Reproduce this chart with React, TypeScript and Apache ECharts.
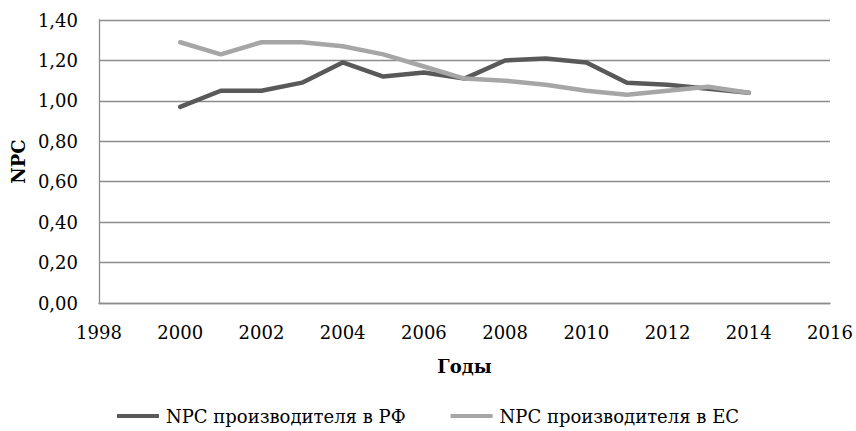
import React, { useEffect, useRef } from "react";
import * as echarts from "echarts";

const years = [2000, 2001, 2002, 2003, 2004, 2005, 2006, 2007, 2008, 2009, 2010, 2011, 2012, 2013, 2014];
const npcRF = [0.97, 1.05, 1.05, 1.09, 1.19, 1.12, 1.14, 1.11, 1.2, 1.21, 1.19, 1.09, 1.08, 1.06, 1.04];
const npcEU = [1.29, 1.23, 1.29, 1.29, 1.27, 1.23, 1.17, 1.11, 1.1, 1.08, 1.05, 1.03, 1.05, 1.07, 1.04];
const seriesNames = ["NPC производителя в РФ", "NPC производителя в ЕС"];
const xAxisName = "Годы";
const yAxisName = "NPC";

const FONT = "DejaVu Serif";
const FS = 18;

export default function App() {
  const ref = useRef<HTMLDivElement>(null);
  useEffect(() => {
    if (!ref.current) return;
    const chart = echarts.init(ref.current, undefined, { renderer: "svg" });
    const gridColor = "#8c8c8c";
    chart.setOption({
      animation: false,
      textStyle: { fontFamily: FONT, color: "#000" },
      grid: { left: 99, right: 26, top: 20, bottom: 128, containLabel: false },
      legend: {
        bottom: 1,
        left: "center",
        itemWidth: 42,
        itemHeight: 4,
        itemGap: 45,
        icon: "rect",
        textStyle: { fontFamily: FONT, fontSize: FS, color: "#000", padding: [0, 0, 0, 2] },
        data: seriesNames,
      },
      xAxis: {
        type: "value",
        min: 1998,
        max: 2016,
        interval: 2,
        name: xAxisName,
        nameLocation: "middle",
        nameGap: 54,
        nameTextStyle: { fontFamily: FONT, fontSize: FS, fontWeight: "bold", color: "#000" },
        axisLine: { show: true, lineStyle: { color: gridColor, width: 1.3 } },
        axisTick: { show: false },
        splitLine: { show: false },
        axisLabel: {
          margin: 20,
          fontSize: FS,
          color: "#000",
          formatter: (v: number) => String(v),
        },
      },
      yAxis: {
        type: "value",
        min: 0,
        max: 1.4,
        interval: 0.2,
        name: yAxisName,
        nameLocation: "middle",
        nameGap: 71,
        nameRotate: 90,
        nameTextStyle: { fontFamily: FONT, fontSize: FS, fontWeight: "bold", color: "#000" },
        axisLine: { show: true, lineStyle: { color: gridColor, width: 1.3 } },
        axisTick: { show: false },
        splitLine: { show: true, lineStyle: { color: gridColor, width: 1.3 } },
        axisLabel: {
          margin: 21,
          fontSize: FS,
          color: "#000",
          formatter: (v: number) => v.toFixed(2).replace(".", ","),
        },
      },
      series: [
        {
          name: seriesNames[0],
          type: "line",
          data: years.map((y, i) => [y, npcRF[i]]),
          symbol: "none",
          lineStyle: { color: "#595959", width: 4.5, cap: "round", join: "round" },
          itemStyle: { color: "#595959" },
        },
        {
          name: seriesNames[1],
          type: "line",
          data: years.map((y, i) => [y, npcEU[i]]),
          symbol: "none",
          lineStyle: { color: "#a6a6a6", width: 4.5, cap: "round", join: "round" },
          itemStyle: { color: "#a6a6a6" },
        },
      ],
    });
    return () => chart.dispose();
  }, []);
  return <div ref={ref} style={{ width: 856, height: 431, position: "absolute", left: 0, top: 0 }} />;
}
